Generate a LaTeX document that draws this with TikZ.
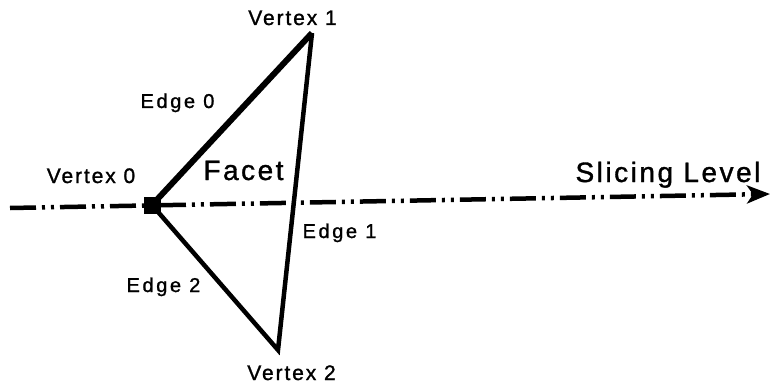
\documentclass[tikz,border=0pt]{standalone}
\usepackage{fontspec}
\setmainfont{Liberation Sans}
\newfontfamily\lblfont[LetterSpace=9,FakeBold=1.2]{Liberation Sans}
\newfontfamily\edgefont[LetterSpace=13,FakeBold=1.2]{Liberation Sans}
\usetikzlibrary{arrows.meta}
\begin{document}
\begin{tikzpicture}[x=1pt,y=-1pt,
  vlabel/.style={anchor=base,inner sep=0pt,font=\lblfont\fontsize{21}{24}\selectfont},
  elabel/.style={anchor=base,inner sep=0pt,font=\edgefont\fontsize{20}{24}\selectfont},
  biglabel/.style={anchor=base,inner sep=0pt,font=\lblfont\fontsize{28}{32}\selectfont},
  vertexbox/.style={draw=none,fill=black,minimum size=17pt,inner sep=0pt},
  slice/.style={line width=4.5pt,dash pattern=on 26pt off 6pt on 3pt off 6pt on 3pt off 6pt,
    -{Stealth[length=23pt,width=18pt,inset=6pt]}},
  thickedge/.style={line width=6pt},
  thinedge/.style={line width=4.5pt,line join=miter}]
\useasboundingbox (0,0) rectangle (770,385);
\coordinate (sL) at (10,208);
\coordinate (sR) at (770,194);
\coordinate (v1) at (312,33);
\coordinate (v2) at (278,350);
\draw[slice] (sL) -- (sR);
\node[vertexbox] (v0) at (152,205) {};
\draw[thickedge] (v0.center) -- (v1);
\draw[thinedge] (v1) -- (v2) -- (v0.center);
\node[vlabel] (lv1) at (292.5,25) {Vertex 1};
\node[vlabel] (lv0) at (91,183) {Vertex 0};
\node[vlabel] (lv2) at (291.5,380) {Vertex 2};
\node[elabel] (le0) at (177.5,108) {Edge 0};
\node[elabel] (le1) at (339.5,238) {Edge 1};
\node[elabel] (le2) at (163.5,292) {Edge 2};
\node[biglabel] (lf) at (243.5,180) {Facet};
\node[biglabel] (ls) at (668,182) {Slicing Level};
\end{tikzpicture}
\end{document}
